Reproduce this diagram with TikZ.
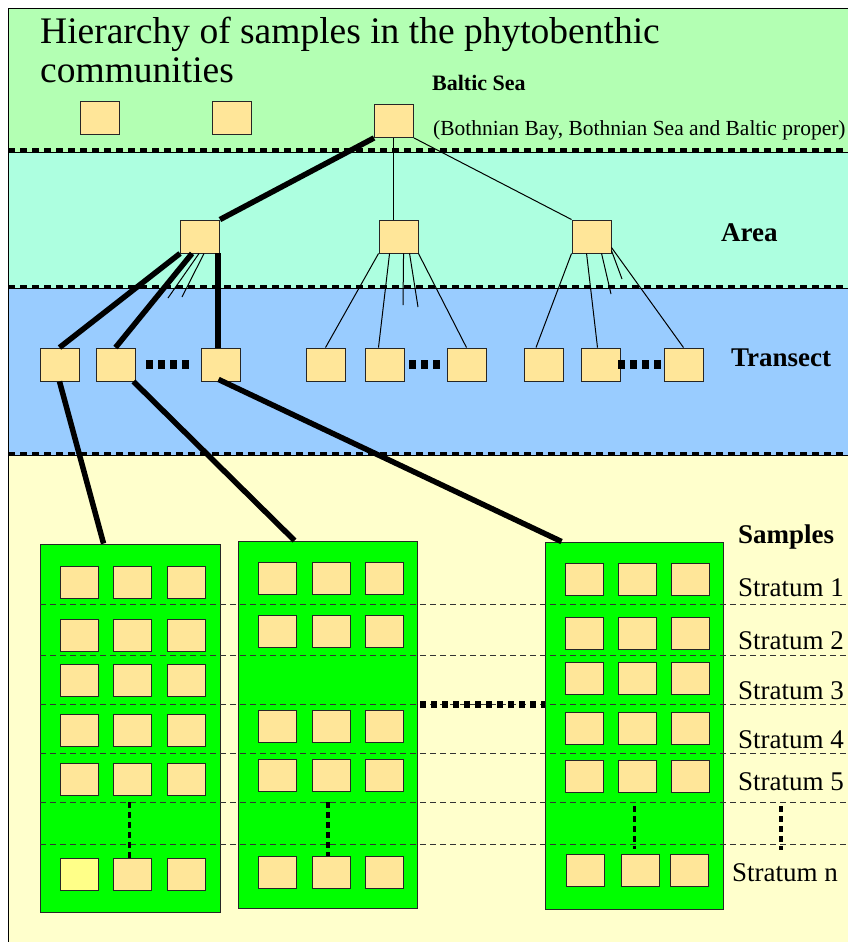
\documentclass[tikz,border=0pt]{standalone}
\usepackage{fontspec}
\setmainfont{Liberation Serif}
\usetikzlibrary{calc}

\definecolor{seagreen}{HTML}{B3FFB3}
\definecolor{areagreen}{HTML}{ADFFE0}
\definecolor{transblue}{HTML}{99CCFF}
\definecolor{sampyellow}{HTML}{FFFFCC}
\definecolor{boxyellow}{HTML}{FFE699}
\definecolor{traygreen}{HTML}{00FF00}
\definecolor{paleyellow}{HTML}{FFFF88}

\tikzset{
  box/.style={draw=black!85, line width=0.9pt, fill=boxyellow, minimum width=39pt, minimum height=33pt, inner sep=0pt},
  sbox/.style={box, minimum width=38pt, minimum height=32pt},
  tray/.style={draw=black!85, line width=0.9pt, fill=traygreen, inner sep=0pt},
  heavylink/.style={line width=5.5pt},
  lightlink/.style={line width=1pt},
  sepline/.style={line width=3.5pt, dash pattern=on 7pt off 5pt},
  stratline/.style={line width=1pt, dash pattern=on 6pt off 4pt, black!80},
  dotrow/.style={line width=9pt, dash pattern=on 7pt off 5pt},
  traydots/.style={line width=7pt, dash pattern=on 6pt off 5pt},
  coldots/.style={line width=3.5pt, dash pattern=on 6pt off 4pt},
  titletext/.style={font=\fontsize{37.5}{44}\selectfont, anchor=base west, inner sep=0pt},
  seatext/.style={font=\fontsize{21.5}{24}\selectfont, anchor=base west, inner sep=0pt},
  leveltext/.style={font=\fontsize{27}{32}\selectfont\bfseries, anchor=base west, inner sep=0pt},
  strattext/.style={font=\fontsize{27}{32}\selectfont, anchor=base west, inner sep=0pt},
}

\begin{document}
\begin{tikzpicture}[x=1pt, y=-1pt]
	\useasboundingbox (0,0) rectangle (847,942);

	% bands
	\fill[seagreen] (8,8) rectangle (850,152);
	\fill[areagreen] (8,152) rectangle (850,288);
	\fill[transblue] (8,288) rectangle (850,455);
	\fill[sampyellow] (8,455) rectangle (850,950);
	\draw[line width=0.8pt] (850,8) -- (8,8) -- (8,950);

	\draw[line width=0.8pt] (8,152) -- (850,152);
	\draw[sepline] (8,150) -- (850,150);
	\draw[line width=0.8pt] (8,288.5) -- (850,288.5);
	\draw[sepline] (8,286.5) -- (850,286.5);
	\draw[line width=0.8pt] (8,455.5) -- (850,455.5);
	\draw[sepline] (8,453.5) -- (850,453.5);

	% title
	\node[titletext] (title1) at (40,44) {Hierarchy of samples in the phytobenthic};
	\node[titletext] (title2) at (40,82) {communities};

	\node[seatext, font=\fontsize{22}{24}\selectfont\bfseries] (sea) at (432,90) {Baltic Sea};
	\node[seatext] (basins) at (433,135) {(Bothnian Bay, Bothnian Sea and Baltic proper)};

	\node[leveltext] (arealab) at (721,241) {Area};
	\node[leveltext] (translab) at (731,366) {Transect};
	\node[leveltext] (samplab) at (738,543) {Samples};

	% sea level
	\node[box] (sea1) at (100,117.5) {};
	\node[box] (sea2) at (231.5,117.5) {};
	\node[box] (root) at (394,121) {};

	% area level
	\node[box] (a1) at (200,236.5) {};
	\node[box] (a2) at (398.5,236.5) {};
	\node[box] (a3) at (591.5,236.5) {};

	% transect level
	\node[box] (t1) at (59.5,364.5) {};
	\node[box] (t2) at (115.5,364.5) {};
	\node[box] (t3) at (220.5,364.5) {};
	\node[box] (t4) at (325.5,364.5) {};
	\node[box] (t5) at (384.5,364.5) {};
	\node[box] (t6) at (466.5,364.5) {};
	\node[box] (t7) at (544,364.5) {};
	\node[box] (t8) at (600.5,364.5) {};
	\node[box] (t9) at (683.5,364.5) {};

	\draw[dotrow] ([xshift=11pt]t2.east) -- ([xshift=-12pt]t3.west);
	\draw[dotrow] ([xshift=5pt]t5.east) -- ([xshift=-6pt]t6.west);
	\draw[dotrow] ([xshift=-2pt]t8.east) -- (t9.west);

	% links sea -> area
	\draw[heavylink] (root.south west) -- (a1.north east);
	\draw[lightlink] ([xshift=-1pt]root.south) -- ([xshift=-1pt]root.south |- a2.north);
	\draw[lightlink] (root.south east) -- (a3.north west);

	% links area -> transect
	\coordinate (a1x) at (168,298);
	\coordinate (a1y) at (182,297);
	\draw[heavylink] (a1.south west) -- (t1.north);
	\draw[heavylink] ([xshift=12pt]a1.south west) -- (t2.north);
	\draw[lightlink] ([xshift=19pt]a1.south west) -- (a1x);
	\draw[lightlink] ([xshift=24pt]a1.south west) -- (a1y);
	\draw[heavylink] ([xshift=-2pt]a1.south east) -- ([xshift=-2pt]a1.south east |- t3.north);

	\coordinate (a2x) at (403,305);
	\coordinate (a2y) at (418,307);
	\draw[lightlink] (a2.south west) -- (t4.north);
	\draw[lightlink] ([xshift=11pt]a2.south west) -- ([xshift=-6pt]t5.north);
	\draw[lightlink] ([xshift=25pt]a2.south west) -- (a2x);
	\draw[lightlink] ([xshift=31pt]a2.south west) -- (a2y);
	\draw[lightlink] (a2.south east) -- (t6.north);

	\coordinate (a3x) at (611,294);
	\coordinate (a3y) at (622,279);
	\draw[lightlink] (a3.south west) -- ([xshift=-8pt]t7.north);
	\draw[lightlink] ([xshift=15pt]a3.south west) -- ([xshift=-3pt]t8.north);
	\draw[lightlink] ([xshift=30pt]a3.south west) -- (a3x);
	\draw[lightlink] ([yshift=3pt]a3.south east) -- (a3y);
	\draw[lightlink] ([yshift=6pt]a3.south east) -- (t9.north);

	% sample trays
	\node[tray, minimum width=180pt, minimum height=368pt] (s1) at (130,728) {};
	\node[tray, minimum width=179pt, minimum height=367pt] (s2) at (327.5,724.5) {};
	\node[tray, minimum width=178pt, minimum height=367pt] (s3) at (634,725.5) {};

	\draw[heavylink] (t1.south) -- ([xshift=64pt]s1.north west);
	\draw[heavylink] ([xshift=-2pt]t2.south east) -- ([xshift=57pt]s2.north west);
	\draw[heavylink] ([xshift=-2pt,yshift=2pt]t3.south) -- ([xshift=17pt]s3.north west);

	% strata
	\coordinate (st1) at (40,604);
	\coordinate (st2) at (40,655);
	\coordinate (st3) at (40,704);
	\coordinate (st4) at (40,753);
	\coordinate (st5) at (40,802);
	\coordinate (st6) at (40,844);
	\foreach \s in {st1,st2,st3,st4,st5,st6}
		\draw[stratline] (\s) -- ++(810,0);

	\foreach \r/\y in {1/582,2/635.5,3/680.5,4/730.5,5/779.5}
		\foreach \c/\x in {1/79.5,2/132.5,3/186.5}
			\node[sbox] (s1-\r-\c) at (\x,\y) {};
	\node[sbox, fill=paleyellow] (s1-6-1) at (79.5,874.5) {};
	\node[sbox] (s1-6-2) at (132.5,874.5) {};
	\node[sbox] (s1-6-3) at (186.5,874.5) {};

	\foreach \r/\y in {1/578.5,2/631.5,4/726.5,5/775.5,6/872.5}
		\foreach \c/\x in {1/277.5,2/331,3/384}
			\node[sbox] (s2-\r-\c) at (\x,\y) {};

	\foreach \r/\y in {1/579.5,2/633,3/678.5,4/728,5/776.5}
		\foreach \c/\x in {1/584,2/637.5,3/690.5}
			\node[sbox] (s3-\r-\c) at (\x,\y) {};
	\node[sbox] (s3-6-1) at (585.5,870.5) {};
	\node[sbox] (s3-6-2) at (640.5,870.5) {};
	\node[sbox] (s3-6-3) at (689,870.5) {};

	\draw[coldots] ([xshift=-3pt]s1-6-2.north |- st5) -- ([xshift=-3pt]s1-6-2.north);
	\draw[coldots] ([xshift=-3pt]s2-6-2.north |- st5) -- ([xshift=-3pt]s2-6-2.north);
	\draw[coldots] ([xshift=-6pt,yshift=-4pt]s3-6-2.north |- st5) -- ([xshift=-6pt,yshift=5pt]s3-6-2.north);
	\coordinate (vdot) at (781,806);
	\draw[coldots] (vdot) -- ++(0,44);
	\draw[traydots] ([xshift=3pt]s2.east |- st3) -- (s3.west |- st3);

	\node[strattext] (str1) at (738,596) {Stratum 1};
	\node[strattext] (str2) at (738,649) {Stratum 2};
	\node[strattext] (str3) at (738,699) {Stratum 3};
	\node[strattext] (str4) at (738,748) {Stratum 4};
	\node[strattext] (str5) at (738,790) {Stratum 5};
	\node[strattext] (strn) at (732,881) {Stratum n};
\end{tikzpicture}
\end{document}
